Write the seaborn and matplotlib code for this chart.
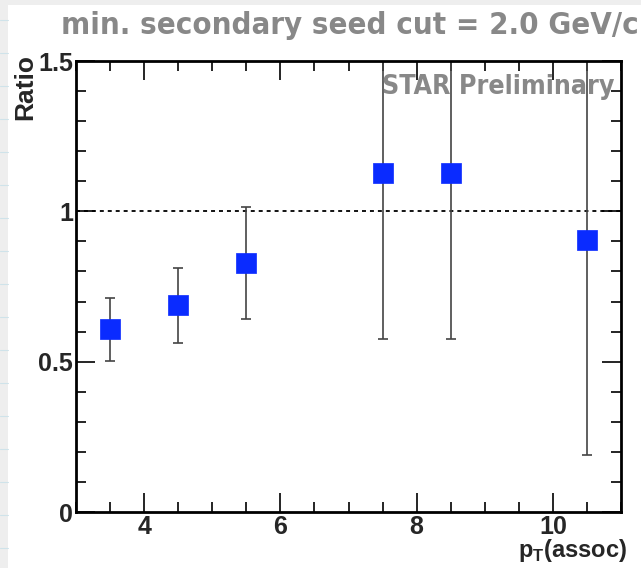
import numpy as np
import pandas as pd
import matplotlib.pyplot as plt
import seaborn as sns
from matplotlib.patches import Rectangle
from matplotlib.ticker import MultipleLocator

# data
pt_assoc = [3.5, 4.5, 5.5, 7.5, 8.5, 10.5]
ratio = [0.607, 0.687, 0.828, 1.126, 1.126, 0.905]
ratio_err = [0.105, 0.126, 0.187, 0.55, 0.55, 0.715]

df = pd.DataFrame({'pt': pt_assoc, 'ratio': ratio, 'err': ratio_err})

sns.set_style('ticks')
plt.rcParams['font.family'] = ['Liberation Sans', 'DejaVu Sans']

fig = plt.figure(figsize=(6.41, 5.68), dpi=100, facecolor='#eeeeee')
# white slide area with a faint grey margin on the left/top
fig.patches.append(Rectangle((8 / 641, 0), 1, 1 - 5 / 568, transform=fig.transFigure,
                             facecolor='white', edgecolor='none', zorder=-10))
for yy in np.arange(20, 568, 33):
    fig.add_artist(plt.Line2D([0, 8 / 641], [1 - yy / 568] * 2, color='#cfe3ea', lw=0.8))

ax = fig.add_axes([76 / 641, 1 - 512 / 568, (621 - 76) / 641, (512 - 61) / 568])
ax.set_facecolor('white')

ax.axhline(1.0, color='black', lw=1.3, ls=(0, (2.2, 2.2)), zorder=1)
ax.errorbar(df['pt'], df['ratio'], yerr=df['err'], fmt='none', ecolor='#444444',
            elinewidth=1.2, capsize=3.5, capthick=1.2, zorder=2)
sns.scatterplot(data=df, x='pt', y='ratio', marker='s', s=200, color='#0a2bff',
                edgecolor='#0a2bff', linewidth=0.5, ax=ax, zorder=3, legend=False)

ax.set_xlim(3, 11)
ax.set_ylim(0, 1.5)
ax.xaxis.set_minor_locator(MultipleLocator(0.5))
ax.yaxis.set_minor_locator(MultipleLocator(0.1))
ax.set_yticks([0, 0.5, 1, 1.5])
ax.set_yticklabels(['0', '0.5', '1', '1.5'])
ax.set_xticks([4, 6, 8, 10])
ax.set_xticklabels(['4', '6', '8', '10'])
ax.tick_params(which='both', direction='in', top=True, right=True, width=1.2, color='black')
ax.tick_params(which='major', length=14, labelsize=18, pad=2)
ax.tick_params(which='minor', length=7)
for lab in ax.get_xticklabels() + ax.get_yticklabels():
    lab.set_fontweight('bold')
for sp in ax.spines.values():
    sp.set_linewidth(2)
    sp.set_color('black')
ax.set_xlabel('')
ax.set_ylabel('')

fig.text(25 / 641, 1 - 54 / 568, 'Ratio', rotation=90, ha='center', va='top',
         fontsize=19, fontweight='bold')
fig.text(627 / 641, 1 - 557 / 568, r'p$_{\mathregular{T}}$(assoc)', ha='right', va='baseline',
         fontsize=17, fontweight='bold')

fig.text(350 / 641, 1 - 26 / 568, 'min. secondary seed cut = 2.0 GeV/c', ha='center', va='center',
         fontsize=22.3, fontweight='bold', color='#888888', family='DejaVu Sans',
         fontstretch='condensed')
fig.text(498 / 641, 1 - 87 / 568, 'STAR Preliminary', ha='center', va='center',
         fontsize=19.2, fontweight='bold', color='#888888', family='DejaVu Sans',
         fontstretch='condensed')

plt.savefig('out.png', dpi=100, facecolor=fig.get_facecolor())
